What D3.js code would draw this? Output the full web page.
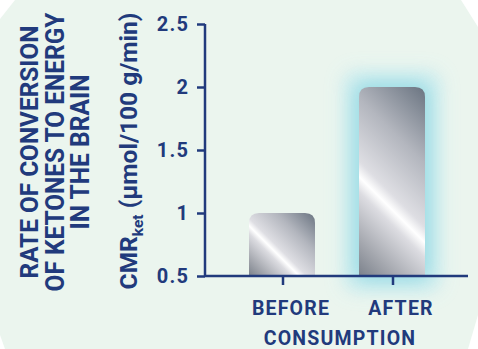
<!DOCTYPE html>
<html>
<head>
<meta charset="utf-8">
<script src="https://cdn.jsdelivr.net/npm/d3@7"></script>
<style>
  html, body { margin: 0; padding: 0; background: #ffffff; }
  svg { display: block; }
  text { font-family: Roboto, "Open Sans", sans-serif; font-weight: 700; fill: #213a7c; }
</style>
</head>
<body>
<svg id="chart" width="478" height="349"></svg>
<script>
// Data
const categories = ["BEFORE", "AFTER"];
const values = [1.0, 2.0];
const highlighted = ["AFTER"];
const yTicks = [0.5, 1, 1.5, 2, 2.5];
const yTickLabels = ["0.5", "1", "1.5", "2", "2.5"];
const xTitle = "CONSUMPTION";
const yTitleLines = ["RATE OF CONVERSION", "OF KETONES TO ENERGY", "IN THE BRAIN"];
const yUnitMain = "CMR";
const yUnitSub = "ket";
const yUnitRest = " (µmol/100 g/min)";

const navy = "#213a7c";
const svg = d3.select("#chart");

// Mint panel with clipped corners
svg.append("polygon")
  .attr("points", [[15,0],[461,0],[478,27],[478,315],[468,349],[5,349],[0,335],[0,19]].map(p => p.join(",")).join(" "))
  .attr("fill", "#ebf5ee");

const y = d3.scaleLinear().domain([0.5, 2.5]).range([276, 24]);
const x = d3.scaleBand().domain(categories).range([227, 447]).paddingInner(0.4).paddingOuter(0.2);
const axisX0 = 205, axisX1 = 468;

const defs = svg.append("defs");

// Soft cyan glow behind highlighted bars
const glow = defs.append("filter").attr("id", "glow")
  .attr("x", "-100%").attr("y", "-50%").attr("width", "300%").attr("height", "200%");
glow.append("feGaussianBlur").attr("stdDeviation", 9);

// Metallic gradient along the bottom-left → top-right diagonal of each bar
const stops = [
  [0.00, "#7b818b"], [0.14, "#a4a7ae"], [0.33, "#dcdce1"], [0.39, "#ffffff"],
  [0.45, "#dedee3"], [0.70, "#b3b6be"], [1.00, "#6a7481"]
];
categories.forEach((c, i) => {
  const x0 = x(c), x1 = x0 + x.bandwidth();
  const y0 = y(values[i]), y1 = y(0.5);
  const cx = (x0 + x1) / 2, cy = (y0 + y1) / 2;
  const half = ((x1 - x0) + (y1 - y0)) / 4;
  const g = defs.append("linearGradient").attr("id", "metal" + i)
    .attr("gradientUnits", "userSpaceOnUse")
    .attr("x1", cx - half).attr("y1", cy + half)
    .attr("x2", cx + half).attr("y2", cy - half);
  stops.forEach(s => g.append("stop").attr("offset", s[0]).attr("stop-color", s[1]));
});

function topRounded(x0, y0, w, h, r) {
  return `M${x0},${y0 + h}V${y0 + r}Q${x0},${y0} ${x0 + r},${y0}H${x0 + w - r}Q${x0 + w},${y0} ${x0 + w},${y0 + r}V${y0 + h}Z`;
}

// Glow: a wide pale halo plus a tighter cyan rim
const glowData = categories.filter(c => highlighted.includes(c));
const glowG = svg.append("g");
[[16, "#c4eaef", 0.85], [4, "#86d5e0", 0.75]].forEach(([pad, col, op]) => {
  glowG.append("g").selectAll("rect")
    .data(glowData)
    .join("rect")
    .attr("x", c => x(c) - pad)
    .attr("y", c => y(values[categories.indexOf(c)]) - pad)
    .attr("width", x.bandwidth() + 2 * pad)
    .attr("height", c => y(0.5) - y(values[categories.indexOf(c)]) + 2 * pad)
    .attr("rx", 12)
    .attr("fill", col)
    .attr("opacity", op)
    .attr("filter", "url(#glow)");
});

// Bars
svg.append("g").selectAll("path")
  .data(categories)
  .join("path")
  .attr("d", (c, i) => topRounded(x(c), y(values[i]), x.bandwidth(), y(0.5) - y(values[i]), 10))
  .attr("fill", (c, i) => `url(#metal${i})`);

// Y axis
const yAxis = svg.append("g").attr("transform", `translate(${axisX0},0)`)
  .call(d3.axisLeft(y).tickValues(yTicks).tickFormat((d, i) => yTickLabels[i]).tickSize(8).tickPadding(9));
yAxis.select(".domain").attr("stroke", navy).attr("stroke-width", 2.5).attr("d", `M0,${y(2.5)}V${y(0.5)}`);
yAxis.selectAll(".tick line").attr("stroke", navy).attr("stroke-width", 2.5);
yAxis.selectAll(".tick text")
  .attr("fill", navy).attr("font-size", 20).attr("font-family", "Roboto")
  .attr("font-weight", 700).attr("letter-spacing", 1.2).attr("dx", 1.2);

// X axis
const xAxis = svg.append("g").attr("transform", `translate(0,${y(0.5)})`)
  .call(d3.axisBottom(x).tickSize(9).tickFormat(""));
xAxis.select(".domain").attr("stroke", navy).attr("stroke-width", 2.5).attr("d", `M${axisX0},0H${axisX1}`);
xAxis.selectAll(".tick line").attr("stroke", navy).attr("stroke-width", 2.5).attr("transform", "translate(1,0)");

// Category labels
svg.append("g").selectAll("text")
  .data(categories)
  .join("text")
  .attr("x", c => x(c) + x.bandwidth() / 2 + 9)
  .attr("y", 315)
  .attr("text-anchor", "middle")
  .attr("font-size", 19.5)
  .attr("letter-spacing", 1.2)
  .text(c => c);

svg.append("text")
  .attr("x", 340).attr("y", 345)
  .attr("text-anchor", "middle")
  .attr("font-size", 19.5)
  .attr("letter-spacing", 1.2)
  .text(xTitle);

// Y titles, squeezed along the reading direction to fit the panel height
const titleCenterY = 152;
const titleBaselines = [37.5, 63.5, 88.5];
const titleLengths = [253, 279, 155];
svg.append("g").selectAll("text")
  .data(yTitleLines)
  .join("text")
  .attr("text-anchor", "middle")
  .attr("font-size", 26.5)
  .text(d => d)
  .each(function (d, i) {
    const natural = this.getComputedTextLength();
    const sx = titleLengths[i] / natural;
    d3.select(this).attr("transform",
      `translate(${titleBaselines[i]},${titleCenterY}) rotate(-90) scale(${sx},1)`);
  });

const unit = svg.append("text")
  .attr("transform", `translate(137,151) rotate(-90)`)
  .attr("text-anchor", "middle")
  .attr("font-size", 24.5);
unit.append("tspan").text(yUnitMain);
unit.append("tspan").attr("font-size", 15.5).attr("dy", 6).text(yUnitSub);
unit.append("tspan").attr("dy", -6).text(yUnitRest);
</script>
</body>
</html>
